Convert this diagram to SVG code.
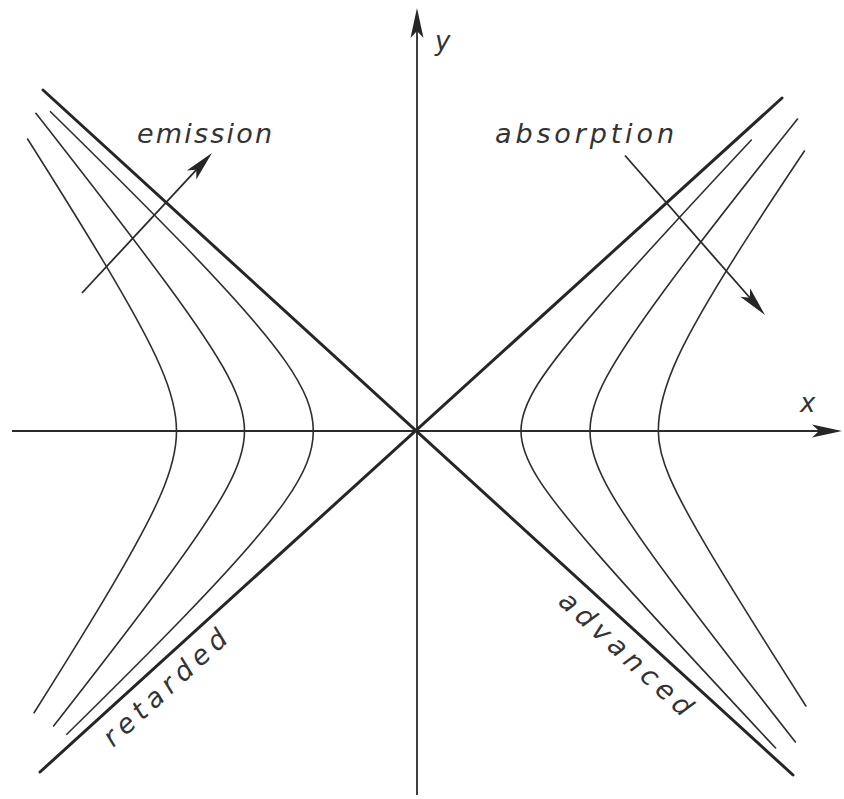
<svg xmlns="http://www.w3.org/2000/svg" width="844" height="799" viewBox="0 0 844 799">
<style>
.axis{stroke:#2b2b2b;stroke-width:1.8;fill:none}
.asym{stroke:#262626;stroke-width:3;fill:none;stroke-linecap:round}
.hyp{stroke:#2e2e2e;stroke-width:1.6;fill:none;stroke-linecap:round}
.arr{stroke:#2b2b2b;stroke-width:1.8;fill:none}
.lbl{font-family:"DejaVu Sans","Liberation Sans",sans-serif;font-style:italic;font-size:27px;fill:#333}
.ax{font-family:"DejaVu Sans","Liberation Sans",sans-serif;font-style:italic;font-size:26px;fill:#333}
</style>
<defs>
<marker id="head" markerUnits="userSpaceOnUse" orient="auto" markerWidth="60" markerHeight="40" refX="0" refY="0" viewBox="-30 -20 60 40" overflow="visible">
<path d="M22,0 L-8,-6.5 L-1,0 L-8,6.5 Z" fill="#262626"/>
</marker>
</defs>
<rect width="844" height="799" fill="#fff"/>
<g id="axes">
<line class="axis" x1="12" y1="431" x2="820" y2="431" marker-end="url(#head)"/>
<line class="axis" x1="417" y1="795" x2="417" y2="30" marker-end="url(#head)"/>
<text class="ax" x="800" y="412">x</text>
<text class="ax" x="435" y="50">y</text>
</g>
<g id="asymptotes">
<line class="asym" x1="43" y1="90" x2="793" y2="775"/>
<line class="asym" x1="782" y1="98" x2="40" y2="772"/>
</g>
<g id="hyperbolas-left">
<path class="hyp" d="M27.6,139 C60,190.2 83.9,228.9 102.8,260.4 C132.4,309.8 149.7,341.6 160.7,367.2 C171.8,392.8 176.5,411.9 176.5,431 C176.5,450.2 171.8,469.2 160.7,494.8 C149.7,520.4 132.4,552.2 102.8,601.6 C85.2,630.9 63.2,666.6 34.1,712.7"/>
<path class="hyp" d="M35.9,113.3 C97.4,191.8 136.8,243.2 165.6,282.3 C197.3,325.3 215.8,353.1 227.6,375.4 C239.5,397.7 244.5,414.3 244.5,431 C244.5,447.7 239.5,464.3 227.6,486.6 C215.8,508.9 197.3,536.7 165.6,579.7 C139.7,614.9 105,660.2 53.6,726"/>
<path class="hyp" d="M50.5,111.7 C107.7,167.8 150.1,210.3 183.5,244.8 C235.6,298.7 266,333.4 285.5,361.4 C305,389.3 313.3,410.1 313.3,431 C313.3,451.9 305,472.7 285.5,500.6 C266,528.6 235.6,563.4 183.5,617.2 C153.4,648.4 115.8,686 66.8,734.3"/>
</g>
<g id="hyperbolas-right">
<path class="hyp" d="M751.3,140 C677.6,219 632.7,268 600.7,304.6 C568.7,341.2 550,364.8 538,383.8 C526.1,402.7 521,416.8 521,431 C521,445.2 526.1,459.3 538,478.3 C550,497.2 568.7,520.8 600.7,557.4 C636.1,597.8 686.9,653.2 775.6,748"/>
<path class="hyp" d="M797.5,119 C734,198.5 693.7,250.5 665.7,288.5 C635.3,329.7 617.6,356.3 606.2,377.7 C594.8,399.1 590,415 590,431 C590,447 594.8,462.9 606.2,484.3 C617.6,505.7 635.3,532.3 665.7,573.5 C694.1,612.1 733.4,663.1 795.4,742"/>
<path class="hyp" d="M804.4,151 C783,183 765.2,209.9 750.1,233.4 C713.2,290.5 691.7,327.4 677.9,357.1 C664.2,386.8 658.3,408.8 658.3,431 C658.3,445.1 661.8,459.1 669.9,477.9 C678,496.7 690.7,520.1 712.4,556.4 C732.9,590.6 761.1,635.8 805.9,706"/>
</g>
<g id="connectors">
<line class="arr" x1="82" y1="293" x2="197" y2="169.1" marker-end="url(#head)"/>
<line class="arr" x1="625" y1="155.5" x2="750.5" y2="298.5" marker-end="url(#head)"/>
</g>
<g id="labels">
<text class="lbl" x="137" y="143" textLength="135" lengthAdjust="spacing">emission</text>
<text class="lbl" x="495" y="143" textLength="179" lengthAdjust="spacing">absorption</text>
<text class="lbl" transform="translate(113,748) rotate(-42.5)" x="0" y="0" textLength="158" lengthAdjust="spacing">retarded</text>
<text class="lbl" transform="translate(557,603) rotate(42.5)" x="0" y="0" textLength="170" lengthAdjust="spacing">advanced</text>
</g>
</svg>
